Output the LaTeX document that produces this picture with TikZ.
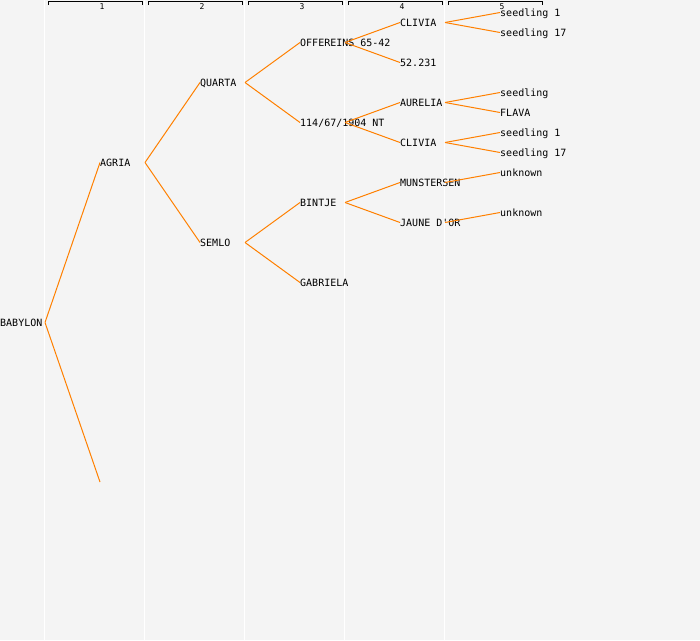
\documentclass[tikz,border=0pt]{standalone}
\usepackage{fontspec}
\setmonofont{DejaVu Sans Mono}
\usetikzlibrary{positioning}
\definecolor{pedbg}{HTML}{F4F4F4}
\definecolor{pedline}{HTML}{FF8000}
\tikzset{cv/.style={inner sep=0pt, anchor=west, font=\ttfamily\fontsize{10}{12}\selectfont, text height=7.3pt, text depth=0pt}}
\tikzset{cross/.style={draw=pedline, line width=1pt}}
\tikzset{gen/.style={inner sep=0pt, font=\ttfamily\fontsize{8}{9}\selectfont}}

\begin{document}
\begin{tikzpicture}[x=1pt, y=-1pt]
    \fill[pedbg] (0,0) rectangle (700,640);
    \useasboundingbox (0,0) rectangle (700,640);
    % generation columns
    \foreach \c in {0,...,4}
        \draw[white, line width=1.5pt] (44.5+100*\c,0) -- (44.5+100*\c,640);
    \foreach \c in {1,...,5}{
        \draw[black, line width=1pt]
        (-52+100*\c,5) -- (-52+100*\c,1.5) -- (42.5+100*\c,1.5) -- (42.5+100*\c,5);
        \node[gen] (g\c) at (2+100*\c,6.5) {\c};
    }
    % varieties
    \node[cv] (babylon) at (0,322.5) {BABYLON};
    \node[cv] (agria) at (100,162.5) {AGRIA};
    \coordinate (unk1) at (100,482);
    \node[cv] (quarta) at (200,82.5) {QUARTA};
    \node[cv] (semlo) at (200,242.5) {SEMLO};
    \node[cv] (offereins) at (300,42.5) {OFFEREINS 65-42};
    \node[cv] (nt) at (300,122.5) {114/67/1904 NT};
    \node[cv] (bintje) at (300,202.5) {BINTJE};
    \node[cv] (gabriela) at (300,282.5) {GABRIELA};
    \node[cv] (clivia1) at (400,22.5) {CLIVIA};
    \node[cv] (n52) at (400,62.5) {52.231};
    \node[cv] (aurelia) at (400,102.5) {AURELIA};
    \node[cv] (clivia2) at (400,142.5) {CLIVIA};
    \node[cv] (munstersen) at (400,182.5) {MUNSTERSEN};
    \node[cv] (jaune) at (400,222.5) {JAUNE D'OR};
    \node[cv] (sd1a) at (500,12.5) {seedling 1};
    \node[cv] (sd17a) at (500,32.5) {seedling 17};
    \node[cv] (sd) at (500,92.5) {seedling};
    \node[cv] (flava) at (500,112.5) {FLAVA};
    \node[cv] (sd1b) at (500,132.5) {seedling 1};
    \node[cv] (sd17b) at (500,152.5) {seedling 17};
    \node[cv] (unk2) at (500,172.5) {unknown};
    \node[cv] (unk3) at (500,212.5) {unknown};
    % crossings
    \draw[cross] (babylon.west) ++(45,0) -- (unk1);
    \foreach \p/\k in {babylon/agria, agria/quarta, agria/semlo,
        quarta/offereins, quarta/nt, semlo/bintje, semlo/gabriela,
        offereins/clivia1, offereins/n52, nt/aurelia, nt/clivia2,
        bintje/munstersen, bintje/jaune,
        clivia1/sd1a, clivia1/sd17a, aurelia/sd, aurelia/flava,
        clivia2/sd1b, clivia2/sd17b, munstersen/unk2, jaune/unk3}
        \draw[cross] (\p.west) ++(45,0) -- (\k.west);
\end{tikzpicture}
\end{document}
